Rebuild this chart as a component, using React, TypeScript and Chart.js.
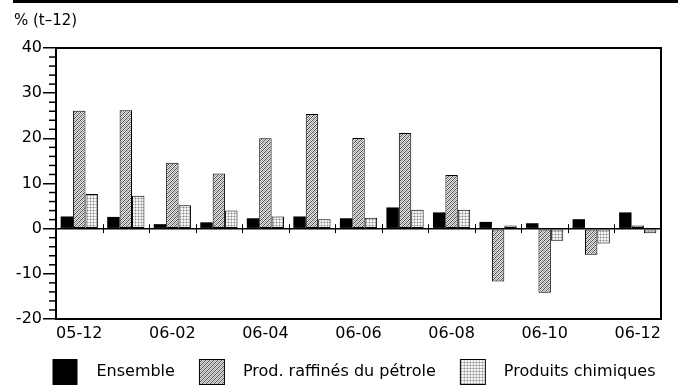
import React, { useEffect, useRef } from 'react';
import { Chart, registerables } from 'chart.js';

Chart.register(...registerables);

const categories = ['05-12', '06-01', '06-02', '06-03', '06-04', '06-05', '06-06', '06-07', '06-08', '06-09', '06-10', '06-11', '06-12'];
const ensemble = [2.7, 2.6, 1.0, 1.4, 2.3, 2.7, 2.3, 4.7, 3.6, 1.5, 1.2, 2.1, 3.6];
const petrole = [26.1, 26.2, 14.6, 12.2, 20.0, 25.4, 20.1, 21.2, 11.9, -11.7, -14.2, -5.8, 0.7];
const chimiques = [7.7, 7.3, 5.2, 4.0, 2.7, 2.1, 2.4, 4.2, 4.2, 0.7, -2.7, -3.3, -1.0];
const seriesNames = ['Ensemble', 'Prod. raffinés du pétrole', 'Produits chimiques'];
const unitLabel = '% (t–12)';
const yMin = -20;
const yMax = 40;
const yStep = 10;
const yMinorStep = 2;

const FONT = '"DejaVu Sans", "Liberation Sans", Arial, sans-serif';

function makeTile(kind: 'hatch' | 'dots'): HTMLCanvasElement {
  const c = document.createElement('canvas');
  const n = kind === 'hatch' ? 4 : 3;
  c.width = n;
  c.height = n;
  const g = c.getContext('2d')!;
  for (let x = 0; x < n; x++) {
    for (let y = 0; y < n; y++) {
      let col = '#ffffff';
      if (kind === 'hatch') {
        const k = (x + y) % 4;
        col = k === 0 ? '#4a4a4a' : k === 2 ? '#a0a0a0' : '#e6e6e6';
      } else {
        if (x === 0 && y === 0) col = '#8c8c8c';
        else if (x === 0 || y === 0) col = '#c4c4c4';
        else col = '#f6f6f6';
      }
      g.fillStyle = col;
      g.fillRect(x, y, 1, 1);
    }
  }
  return c;
}

const LEGEND_OFFSET = 17;
const LEGEND_W = 36 + LEGEND_OFFSET;

function makeLegendImage(fill: string | CanvasPattern, border: boolean): HTMLCanvasElement {
  const c = document.createElement('canvas');
  c.width = LEGEND_W;
  c.height = 26;
  const g = c.getContext('2d')!;
  const x0 = LEGEND_OFFSET;
  g.fillStyle = fill as any;
  g.fillRect(x0, 0, 25, 26);
  if (border) {
    g.strokeStyle = '#000';
    g.lineWidth = 1;
    g.strokeRect(x0 + 0.5, 0.5, 25, 25);
  }
  return c;
}

const decorPlugin = {
  id: 'decor',
  beforeDraw(chart: any) {
    const { ctx, chartArea } = chart;
    ctx.save();
    ctx.fillStyle = '#000';
    ctx.fillRect(13, 0, chart.width - 13, 3);
    ctx.font = '15px ' + FONT;
    ctx.textAlign = 'left';
    ctx.textBaseline = 'middle';
    ctx.fillText(unitLabel, chartArea.left - 42, chartArea.top - 27);
    ctx.restore();
  },
  afterDatasetsDraw(chart: any) {
    const { ctx, chartArea } = chart;
    const xs = chart.scales.x;
    const ys = chart.scales.y;
    ctx.save();
    ctx.strokeStyle = '#000';
    const y0 = ys.getPixelForValue(0);
    ctx.lineWidth = 1.5;
    ctx.beginPath();
    ctx.moveTo(chartArea.left, y0);
    ctx.lineTo(chartArea.right, y0);
    ctx.stroke();
    ctx.lineWidth = 1;
    for (let i = 0; i < categories.length - 1; i++) {
      const bx = Math.round((xs.getPixelForValue(i) + xs.getPixelForValue(i + 1)) / 2) + 0.5;
      ctx.beginPath();
      ctx.moveTo(bx, y0 - 4.5);
      ctx.lineTo(bx, y0 + 4.5);
      ctx.stroke();
    }
    ctx.lineWidth = 1.5;
    for (let v = yMin; v <= yMax; v += yMinorStep) {
      if (v % yStep === 0) continue;
      const py = ys.getPixelForValue(v);
      ctx.beginPath();
      ctx.moveTo(chartArea.left - 7, py);
      ctx.lineTo(chartArea.left, py);
      ctx.stroke();
    }
    ctx.lineWidth = 2;
    ctx.strokeRect(chartArea.left, chartArea.top, chartArea.right - chartArea.left, chartArea.bottom - chartArea.top);
    ctx.restore();
  },
};

export default function App() {
  const ref = useRef<HTMLCanvasElement | null>(null);

  useEffect(() => {
    if (!ref.current) return;
    const c2d = ref.current.getContext('2d')!;
    const hatch = c2d.createPattern(makeTile('hatch'), 'repeat')!;
    const dots = c2d.createPattern(makeTile('dots'), 'repeat')!;
    const legendImgs = [
      makeLegendImage('#000', false),
      makeLegendImage(hatch, true),
      makeLegendImage(dots, true),
    ];

    const chart = new Chart(ref.current, {
      type: 'bar',
      data: {
        labels: categories,
        datasets: [
          {
            label: seriesNames[0],
            data: ensemble,
            backgroundColor: '#000',
            borderWidth: 0,
            categoryPercentage: 0.8,
            barPercentage: 1.0,
          },
          {
            label: seriesNames[1],
            data: petrole,
            backgroundColor: hatch as any,
            borderColor: '#000',
            borderWidth: 1,
            borderSkipped: false,
            categoryPercentage: 0.8,
            barPercentage: 1.0,
          },
          {
            label: seriesNames[2],
            data: chimiques,
            backgroundColor: dots as any,
            borderColor: '#000',
            borderWidth: 1,
            borderSkipped: false,
            categoryPercentage: 0.8,
            barPercentage: 1.0,
          },
        ],
      },
      options: {
        animation: false,
        responsive: false,
        devicePixelRatio: 1,
        layout: { padding: { top: 48, left: 13, right: 0, bottom: -5 } },
        plugins: {
          title: { display: false },
          tooltip: { enabled: false },
          legend: {
            display: true,
            position: 'bottom',
            align: 'center',
            labels: {
              usePointStyle: true,
              pointStyleWidth: LEGEND_W,
              padding: 7,
              color: '#000',
              font: { size: 16, family: FONT },
              generateLabels: () =>
                seriesNames.map((name, i) => ({
                  text: name,
                  pointStyle: legendImgs[i] as any,
                  fillStyle: '#000',
                  strokeStyle: '#000',
                  lineWidth: 0,
                  hidden: false,
                  datasetIndex: i,
                })),
            },
          },
        },
        scales: {
          x: {
            grid: { display: false, drawTicks: false },
            border: { display: false },
            ticks: {
              autoSkip: false,
              maxRotation: 0,
              minRotation: 0,
              padding: 5,
              color: '#000',
              font: { size: 16, family: FONT },
              callback: (_v: any, i: number) => (i % 2 === 0 ? categories[i] : ''),
            },
            afterFit: (axis: any) => {
              axis.height = 38;
            },
          },
          y: {
            min: yMin,
            max: yMax,
            border: { display: false },
            grid: {
              drawOnChartArea: false,
              drawTicks: true,
              tickLength: 13,
              color: '#000',
              lineWidth: 1.5,
            },
            ticks: {
              stepSize: yStep,
              padding: 1,
              color: '#000',
              font: { size: 16, family: FONT },
            },
            afterFit: (axis: any) => {
              axis.width = 43;
            },
          },
          yRight: {
            type: 'linear',
            position: 'right',
            min: yMin,
            max: yMax,
            grid: { display: false, drawTicks: false },
            border: { display: false },
            ticks: { display: false },
            afterFit: (axis: any) => {
              axis.width = 17;
            },
          },
        },
      },
      plugins: [decorPlugin],
    });
    return () => chart.destroy();
  }, []);

  return (
    <div style={{ position: 'absolute', left: 0, top: 0, width: 678, height: 385, background: '#fff' }}>
      <canvas ref={ref} width={678} height={385} style={{ display: 'block' }} />
    </div>
  );
}
